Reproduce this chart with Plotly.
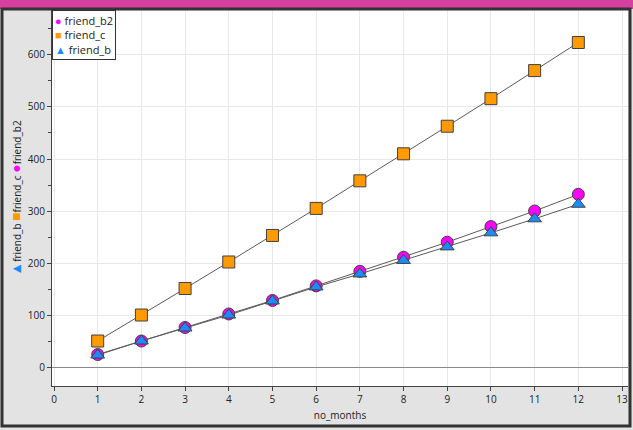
import plotly.graph_objects as go

months = [1, 2, 3, 4, 5, 6, 7, 8, 9, 10, 11, 12]
friend_b2 = [24, 50, 76, 102, 128, 156, 184, 211, 240, 270, 300, 332]
friend_c = [50, 100, 151, 202, 253, 305, 358, 410, 463, 516, 570, 624]
friend_b = [23, 50, 75, 100, 127, 154, 179, 205, 231, 258, 285, 313]

x_ticks = list(range(0, 14))
y_ticks = [0, 100, 200, 300, 400, 500, 600]

FONT = "Open Sans"
line_col = "#5a5a5a"

fig = go.Figure()
series = [
    ("friend_b2", friend_b2, "circle", "#ff00ff", "●"),
    ("friend_c", friend_c, "square", "#ff9a00", "■"),
    ("friend_b", friend_b, "triangle-up", "#1a8cff", "▲"),
]
for name, vals, sym, col, glyph in series:
    fig.add_trace(go.Scatter(
        x=months, y=vals, name=name, mode="lines+markers", showlegend=False,
        line=dict(color=line_col, width=1),
        marker=dict(symbol=sym, size=12, color=col, line=dict(color="#404040", width=1)),
    ))

legend_text = "<br>".join(
    f"<span style='color:{col}'>{glyph}</span> {name}"
    for name, vals, sym, col, glyph in series
)

ytitle = ("<span style='color:#1a8cff;font-size:14px'>▲</span>friend_b "
          "<span style='color:#ff9a00;font-size:14px'>■</span>friend_c "
          "<span style='color:#ff00ff;font-size:14px'>●</span>friend_b2")

W, H = 633, 430
L, R, T, B = 52, 5, 10, 44
pw, ph = W - L - R, H - T - B

def px(x):
    return (x - L) / pw

def py(y):
    return (H - B - y) / ph

fig.update_layout(
    width=W, height=H,
    margin=dict(l=L, r=R, t=T, b=B, autoexpand=False),
    paper_bgcolor="#e3e3e3", plot_bgcolor="white",
    font=dict(family=FONT, size=10, color="#222"),
    showlegend=False,
    xaxis=dict(range=[-0.046, 13.137], tickvals=x_ticks, ticks="outside", ticklen=4,
               tickcolor="#444", showgrid=True, gridcolor="#e8e8e8", zeroline=False,
               showline=True, linecolor="#444", linewidth=1,
               title=dict(text="no_months", standoff=6, font=dict(size=10)),
               tickfont=dict(size=10)),
    yaxis=dict(range=[-36.5, 686.5], tickvals=y_ticks, ticks="outside", ticklen=4,
               tickcolor="#444", showgrid=True, gridcolor="#e8e8e8",
               zeroline=True, zerolinecolor="#8a8a8a", zerolinewidth=1,
               showline=True, linecolor="#444", linewidth=1,
               minor=dict(tickvals=[50, 150, 250, 350, 450, 550, 650], ticks="outside",
                          ticklen=3, tickcolor="#444", showgrid=False),
               title=dict(text=ytitle, standoff=4, font=dict(size=10)),
               tickfont=dict(size=10)),
    annotations=[
        dict(text=legend_text, xref="paper", yref="paper", x=0, y=1,
             xanchor="left", yanchor="top", align="left", showarrow=False,
             bgcolor="white", bordercolor="#333", borderwidth=1, borderpad=2,
             font=dict(size=11, color="#222")),
    ],
    shapes=[
        dict(type="rect", xref="paper", yref="paper", x0=px(0), x1=px(633),
             y0=py(9), y1=py(0), fillcolor="#d6409f", line=dict(width=0), layer="above"),
        dict(type="rect", xref="paper", yref="paper", x0=px(2), x1=px(630),
             y0=py(426), y1=py(9), fillcolor="rgba(0,0,0,0)",
             line=dict(color="#333", width=3), layer="above"),
    ],
)

fig.write_html("out.html", config={"displayModeBar": False},
               post_script="document.body.style.margin='0';")
